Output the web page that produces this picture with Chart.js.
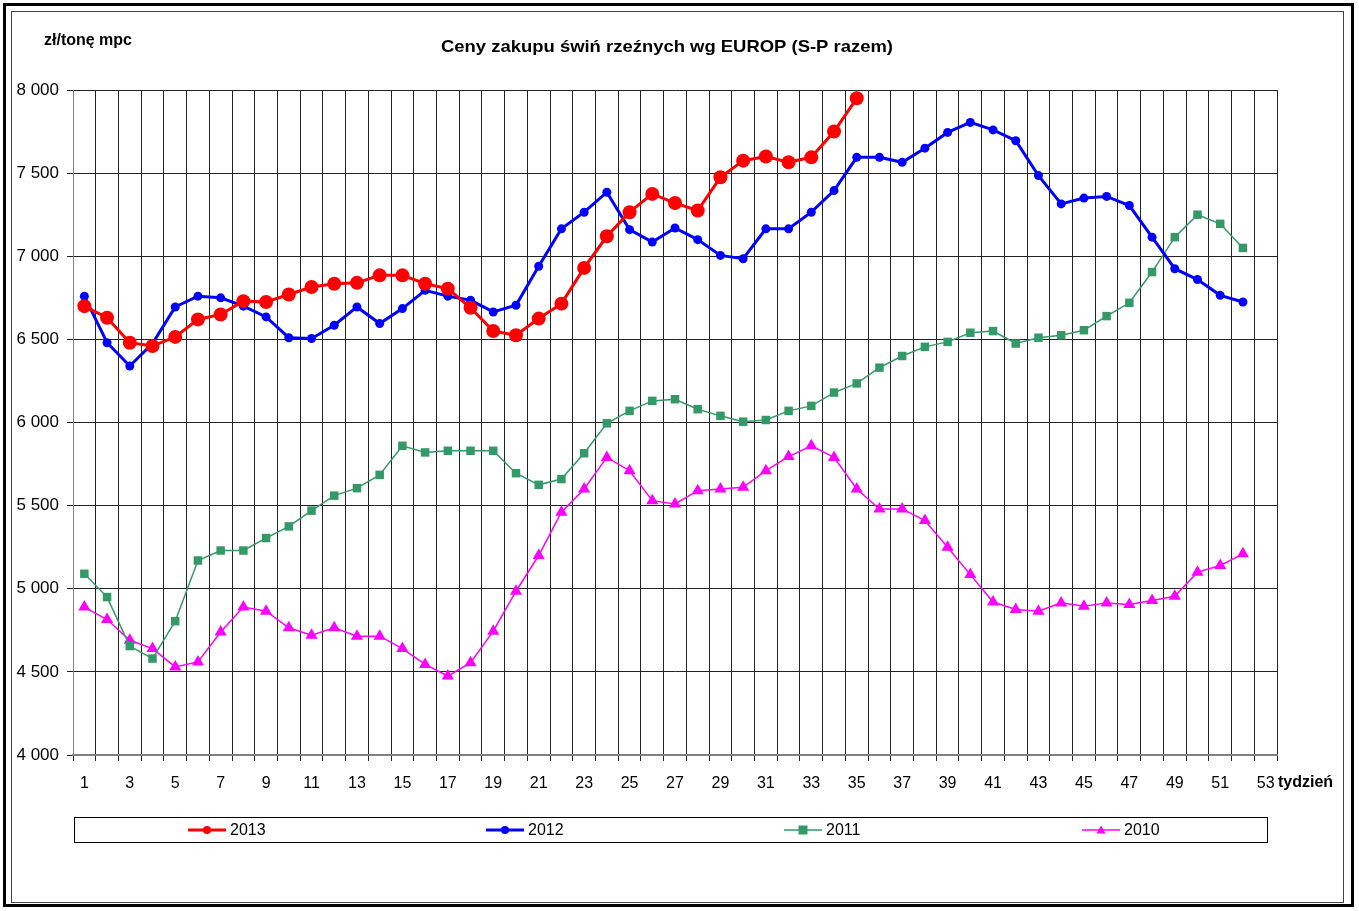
<!DOCTYPE html>
<html>
<head>
<meta charset="utf-8">
<title>Ceny zakupu świń rzeźnych</title>
<script src="https://cdn.jsdelivr.net/npm/chart.js@4.4.1/dist/chart.umd.min.js"></script>
<style>
    body { margin: 0; background: #fff; }
    #wrap { width: 1359px; height: 911px; position: relative; }
</style>
</head>
<body>
<div id="wrap"><canvas id="myChart"></canvas></div>
<script>
// Data (zł/tonę mpc, per week)
const weeks = Array.from({ length: 53 }, (_, i) => String(i + 1));

const prices2013 = [6700, 6630, 6480, 6460, 6515, 6620, 6650, 6730, 6725, 6770,
    6815, 6835, 6840, 6885, 6885, 6835, 6805, 6690, 6550, 6525,
    6625, 6715, 6930, 7120, 7265, 7375, 7320, 7275, 7475, 7575,
    7600, 7565, 7595, 7750, 7950];

const prices2012 = [6760, 6480, 6340, 6475, 6695, 6760, 6750, 6700, 6635, 6510,
    6505, 6585, 6695, 6595, 6685, 6795, 6760, 6735, 6665, 6705,
    6940, 7165, 7265, 7385, 7160, 7085, 7170, 7100, 7005, 6985,
    7165, 7165, 7265, 7395, 7595, 7595, 7565, 7650, 7745, 7805,
    7760, 7695, 7485, 7315, 7350, 7360, 7305, 7115, 6925, 6860,
    6765, 6725];

const prices2011 = [5090, 4950, 4655, 4580, 4805, 5170, 5230, 5230, 5305, 5375,
    5470, 5560, 5605, 5685, 5860, 5820, 5830, 5830, 5830, 5695,
    5625, 5660, 5815, 5995, 6070, 6130, 6140, 6080, 6040, 6005,
    6015, 6070, 6100, 6180, 6235, 6330, 6400, 6455, 6485, 6540,
    6550, 6475, 6510, 6525, 6555, 6640, 6720, 6905, 7115, 7250,
    7195, 7050];

const prices2010 = [4890, 4815, 4690, 4640, 4530, 4560, 4740, 4890, 4865, 4765,
    4720, 4765, 4715, 4715, 4640, 4545, 4475, 4555, 4745, 4985,
    5200, 5460, 5600, 5790, 5710, 5530, 5510, 5590, 5600, 5610,
    5710, 5795, 5860, 5790, 5600, 5480, 5480, 5410, 5250, 5085,
    4920, 4875, 4865, 4915, 4895, 4915, 4905, 4930, 4955, 5100,
    5140, 5210];

const seriesNames = ['2013', '2012', '2011', '2010'];
const titleText = 'Ceny zakupu świń rzeźnych wg EUROP (S-P razem)';
const unitText = 'zł/tonę mpc';
const axisText = 'tydzień';

const FONT = 'Arial, "Liberation Sans", sans-serif';

// "8 000" style numbers
function formatNumber(v) {
    return String(v).replace(/\B(?=(\d{3})+(?!\d))/g, ' ');
}

// Small marker drawing for the legend
function drawMarker(ctx, style, x, y, r, color) {
    ctx.fillStyle = color;
    ctx.beginPath();
    if (style === 'circle') {
        ctx.arc(x, y, r, 0, Math.PI * 2);
    } else if (style === 'rect') {
        ctx.rect(x - r, y - r, r * 2, r * 2);
    } else if (style === 'triangle') {
        ctx.moveTo(x, y - r);
        ctx.lineTo(x + r, y + r * 0.8);
        ctx.lineTo(x - r, y + r * 0.8);
        ctx.closePath();
    }
    ctx.fill();
}

const decorPlugin = {
    id: 'decor',
    beforeDraw(chart) {
        const ctx = chart.ctx;
        ctx.save();
        ctx.fillStyle = '#fff';
        ctx.fillRect(0, 0, chart.width, chart.height);
        ctx.restore();
    },
    afterDraw(chart) {
        const ctx = chart.ctx;
        ctx.save();

        // double frame around the chart
        ctx.strokeStyle = '#000';
        ctx.lineWidth = 3;
        ctx.strokeRect(4.5, 4.5, 1348, 901);
        ctx.strokeStyle = '#444';
        ctx.lineWidth = 1;
        ctx.strokeRect(11.5, 11.5, 1332, 891);

        // unit label + title
        ctx.fillStyle = '#000';
        ctx.textBaseline = 'alphabetic';
        ctx.textAlign = 'left';
        ctx.font = 'bold 16px ' + FONT;
        ctx.fillText(unitText, 44, 45);

        ctx.font = 'bold 17px ' + FONT;
        const tw = ctx.measureText(titleText).width;
        ctx.save();
        ctx.translate(667, 52);
        ctx.scale(452 / tw, 1);
        ctx.textAlign = 'center';
        ctx.fillText(titleText, 0, 0);
        ctx.restore();

        // x axis name
        ctx.font = 'bold 16px ' + FONT;
        ctx.textAlign = 'left';
        ctx.textBaseline = 'middle';
        ctx.fillText(axisText, 1278, 783);

        // legend box
        ctx.strokeStyle = '#000';
        ctx.lineWidth = 1;
        ctx.strokeRect(74.5, 817.5, 1193, 25);

        chart.data.datasets.forEach((ds, i) => {
            const x0 = 188 + i * 298;
            const y0 = 830;
            ctx.strokeStyle = ds.borderColor;
            ctx.lineWidth = i < 2 ? 3 : 1.5;
            ctx.beginPath();
            ctx.moveTo(x0, y0);
            ctx.lineTo(x0 + 38, y0);
            ctx.stroke();
            drawMarker(ctx, ds.pointStyle, x0 + 19, y0, i < 2 ? 4 : 4.5, ds.borderColor);
            ctx.fillStyle = '#000';
            ctx.font = '16px ' + FONT;
            ctx.textBaseline = 'middle';
            ctx.fillText(ds.label, x0 + 42, y0 + 1);
        });

        ctx.restore();
    }
};

const ctx = document.getElementById('myChart');

const chart = new Chart(ctx, {
    type: 'line',
    data: {
        labels: weeks,
        datasets: [
            {
                label: seriesNames[0],
                data: prices2013,
                borderColor: '#FF0000',
                backgroundColor: '#FF0000',
                borderWidth: 3,
                pointStyle: 'circle',
                pointRadius: 7,
                pointBorderWidth: 0,
                tension: 0
            },
            {
                label: seriesNames[1],
                data: prices2012,
                borderColor: '#0000FF',
                backgroundColor: '#0000FF',
                borderWidth: 3,
                pointStyle: 'circle',
                pointRadius: 4.5,
                pointBorderWidth: 0,
                tension: 0
            },
            {
                label: seriesNames[2],
                data: prices2011,
                borderColor: '#339966',
                backgroundColor: '#339966',
                borderWidth: 1.5,
                pointStyle: 'rect',
                pointRadius: 6,
                pointBorderWidth: 0,
                tension: 0
            },
            {
                label: seriesNames[3],
                data: prices2010,
                borderColor: '#FF00FF',
                backgroundColor: '#FF00FF',
                borderWidth: 1.5,
                pointStyle: 'triangle',
                pointRadius: 7,
                pointBorderWidth: 0,
                tension: 0
            }
        ]
    },
    options: {
        responsive: true,
        maintainAspectRatio: false,
        animation: false,
        layout: {
            padding: { left: 0, top: 90, right: 82, bottom: 116 }
        },
        plugins: {
            legend: { display: false },
            title: { display: false },
            tooltip: { enabled: false }
        },
        scales: {
            x: {
                offset: true,
                grid: {
                    offset: true,
                    color: '#222',
                    lineWidth: 1,
                    drawTicks: true,
                    tickLength: 6,
                    tickColor: '#222'
                },
                border: { color: '#808080', width: 2 },
                ticks: {
                    autoSkip: false,
                    maxRotation: 0,
                    minRotation: 0,
                    padding: 13,
                    color: '#000',
                    font: { family: FONT, size: 16 },
                    callback: function (val, index) {
                        return index % 2 === 0 ? this.getLabelForValue(val) : '';
                    }
                },
                afterFit: (scale) => { scale.height = 40; }
            },
            y: {
                min: 4000,
                max: 8000,
                grid: {
                    color: '#222',
                    lineWidth: 1,
                    tickLength: 6,
                    tickColor: '#222'
                },
                border: { color: '#808080', width: 1 },
                ticks: {
                    stepSize: 500,
                    padding: 8,
                    color: '#000',
                    font: { family: FONT, size: 17 },
                    callback: (v) => formatNumber(v)
                },
                afterFit: (scale) => { scale.width = 73; }
            }
        }
    },
    plugins: [decorPlugin]
});
</script>
</body>
</html>
